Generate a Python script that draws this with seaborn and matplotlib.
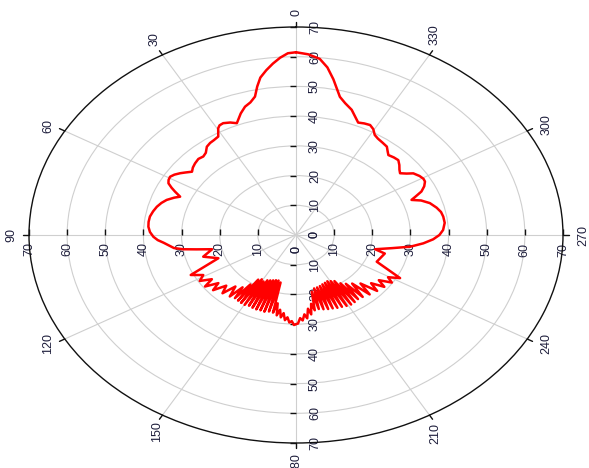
import numpy as np
import pandas as pd
import matplotlib
matplotlib.use("Agg")
import matplotlib.pyplot as plt
import seaborn as sns

# Pattern on the left half: angle measured counter-clockwise from the top (deg), radius
left_deg = [0, 2, 4, 6, 8, 10, 11.5, 13, 15, 17.2, 19.5, 22.4, 24.5, 26.9, 28.5, 29.6,
            31.6, 34, 36, 38.2, 40.5, 42.6, 45, 47.7, 50, 52, 54, 55.6, 57.5, 59.3,
            61, 62.5, 64, 65.3, 67, 68.5, 70.8, 73, 75.4, 78, 80.8, 83.5, 85.9, 88.5,
            90.9, 92.7, 94.3, 96, 97.8, 99.2, 100.5, 102.3, 106.7, 111, 116,
            119, 121.5, 124, 126, 128.5, 130.5, 133, 135.5, 137.5, 140, 141.5, 143,
            144.3, 145.5, 146.6, 147.8, 149, 150.2, 151.4, 152.6, 153.8, 155, 156.2,
            157.4, 158.6, 159.8, 161, 162.2, 163.4, 164.6, 165.8, 167, 168.2, 169.4,
            170.6, 171.8, 173, 174.2, 175.4, 176.6, 177.8, 179, 180]
left_r = [61.5, 61.2, 59.8, 58.0, 56.0, 53.8, 51.0, 47.8, 46.2, 45.2, 43.4, 40.7, 41.6,
          42.2, 42.0, 41.3, 38.9, 38.5, 38.3, 37.8, 36.4, 35.9, 36.2, 35.8, 35.3, 34.6,
          35.8, 36.8, 37.8, 38.4, 38.2, 37.7, 36.3, 34.9, 33.0, 34.3, 35.9, 36.9, 37.7,
          38.3, 38.8, 38.9, 38.8, 38.3, 37.4, 36.3, 34.8, 33.5, 32.3, 30.0, 26.5, 22.5,
          25.4, 21.8, 30.7,
          27.8, 29.6, 26.6, 29.5, 26.0, 28.6, 25.0, 27.5, 23.5, 27.0, 22.5, 26.6,
          20.5, 26.8, 18.0, 27.0, 17.4, 27.1, 17.8, 26.8, 17.0, 27.0, 16.7,
          27.1, 16.4, 27.0, 16.1, 27.1, 16.0, 26.7, 16.5, 26.8, 23.5, 27.5,
          25.5, 28.0, 26.5, 28.8, 27.8, 29.5, 29.0, 30.3, 30.0]

# Pattern on the right half: angle measured clockwise from the top (deg), radius
right_deg = [0, 3, 6, 8.3, 10.6, 12.4, 13.9, 16.2, 19.1, 21.2, 23.3, 25.5, 27.7, 29.6,
             31.5, 33.5, 36, 38.7, 40.5, 42, 44.5, 46.8, 49, 51, 52.7, 54.5, 56, 58.5,
             60.5, 62, 64, 66, 67.5, 68.7, 70.5, 73, 76, 78.5, 80.9, 84, 87.5, 90,
             92.3, 94.8, 97.5, 100, 103, 105, 113, 118,
             120.5, 122.5, 125, 127, 129.5, 131.5, 134, 136, 138, 140, 141.5, 143,
             144.4, 145.7, 147, 148.3, 149.6, 150.9, 152.2, 153.5, 154.8, 156.1,
             157.4, 158.7, 160, 161.3, 162.6, 163.9, 165.2, 166.5, 167.8, 169,
             170.3, 171.5, 172.8, 174, 175.3, 176.5, 177.8, 179, 180]
right_r = [61.5, 60.9, 59.6, 57.0, 53.3, 50.2, 47.9, 46.2, 44.6, 42.8, 41.2, 41.6, 41.8,
           41.0, 39.5, 38.9, 38.5, 38.1, 37.0, 36.2, 36.6, 36.8, 35.9, 34.9, 34.3, 35.6,
           37.1, 38.0, 38.4, 38.3, 37.4, 36.0, 34.0, 32.5, 34.8, 36.7, 38.0, 38.8, 39.1,
           39.2, 38.6, 37.6, 36.0, 33.5, 30.2, 25.5, 21.3, 24.1, 23.0, 30.9,
           28.0, 29.8, 26.5, 29.0, 25.5, 28.4, 23.5, 27.8, 22.0, 27.2, 21.0, 27.0,
           20.0, 27.3, 18.5, 27.5, 18.0, 27.3, 17.6, 27.0, 17.8, 26.8,
           18.0, 26.5, 18.3, 26.3, 18.5, 26.0, 18.6, 25.6, 19.5, 25.8,
           23.5, 27.0, 25.0, 28.2, 26.8, 28.8, 28.0, 29.8, 30.0]

angle_ticks = list(range(0, 360, 30))
radial_ticks = [0, 10, 20, 30, 40, 50, 60, 70]

# one closed trace: left half top -> bottom, then right half bottom -> top
theta_deg = left_deg + [360 - d for d in reversed(right_deg)]
radius = left_r + list(reversed(right_r))
df = pd.DataFrame({"theta": np.deg2rad(theta_deg), "r": radius})

sns.set_theme(style="white")
plt.rcParams["font.family"] = ["Liberation Sans", "DejaVu Sans"]

fig = plt.figure(figsize=(5.89, 4.68), dpi=100)
ax = fig.add_axes([29 / 589, 25 / 468, 534 / 589, 416 / 468], projection="polar")
ax.set_aspect("auto")
ax.set_theta_zero_location("N")
ax.set_theta_direction(1)
ax.set_rlim(0, 70)
ax.set_xticks(np.deg2rad(angle_ticks))
ax.set_xticklabels([])
ax.set_yticks([10, 20, 30, 40, 50, 60])
ax.set_yticklabels([])
ax.tick_params(axis="both", length=0)
ax.grid(True, color="#cfcfcf", linewidth=0.8)
ax.set_facecolor("white")
ax.spines["polar"].set_color("#111111")
ax.spines["polar"].set_linewidth(1.0)

label_color = "#1e1e3c"

# short outward ticks on the rim at every 30 degrees
for a in angle_ticks:
    ax.plot([np.deg2rad(a)] * 2, [70, 71.6], color="#111111", lw=1.0,
            clip_on=False, zorder=5)

# angle labels around the rim (pixel offsets from the rim point)
angle_offsets = {0: (0, 14), 30: (-7.5, 15.6), 60: (-16.5, 5), 90: (-17.5, 0),
                 120: (-16.5, -4.3), 150: (-5.8, -16.6), 180: (0, -20.5),
                 210: (5.5, -18.2), 240: (19.5, -4.3), 270: (20, 0),
                 300: (19.5, 6), 330: (5.5, 20)}
for a in angle_ticks:
    ax.annotate(str(a), xy=(np.deg2rad(a), 70), xytext=angle_offsets[a],
                textcoords="offset pixels", rotation=90, ha="center", va="center",
                fontsize=9, color=label_color, annotation_clip=False)

# radial scale along the four main spokes
vert_tick = [(-1, 0), (0, 0)]
horz_tick = [(0, 0), (0, 1)]
for a in (0, 180):
    ax.plot([np.deg2rad(a)] * 7, radial_ticks[1:], ls="none", marker=vert_tick,
            markersize=9, markeredgewidth=1.0, color="#111111", zorder=5,
            clip_on=False)
for a in (90, 270):
    ax.plot([np.deg2rad(a)] * 7, radial_ticks[1:], ls="none", marker=horz_tick,
            markersize=9, markeredgewidth=1.0, color="#111111", zorder=5,
            clip_on=False)
for a, off in ((0, (19, 0)), (180, (19, 0)), (90, (0, -14.5)), (270, (0, -14.5))):
    for rv in radial_ticks:
        ax.annotate(str(rv), xy=(np.deg2rad(a), rv), xytext=off,
                    textcoords="offset pixels", rotation=90, ha="center",
                    va="center", fontsize=9, color=label_color,
                    annotation_clip=False, zorder=2.5)

sns.lineplot(data=df, x="theta", y="r", sort=False, estimator=None, ax=ax,
             color="#ff0000", linewidth=1.8, zorder=6)
ax.set_xlabel("")
ax.set_ylabel("")
ax.set_rlim(0, 70)

fig.savefig("out.png", dpi=100, facecolor="white")
